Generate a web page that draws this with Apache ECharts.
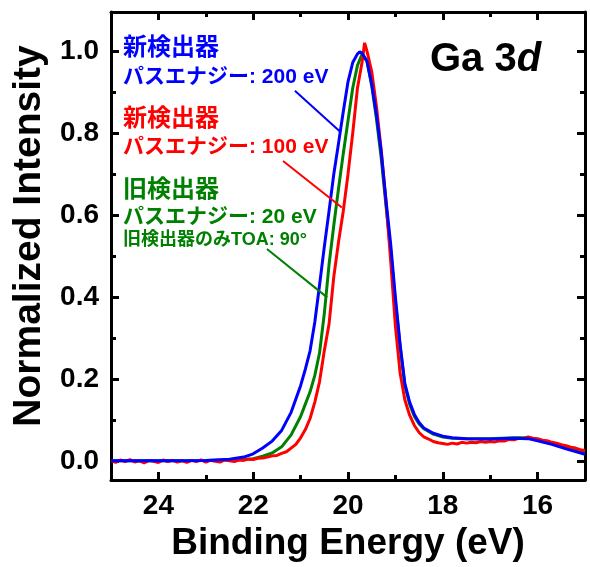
<!DOCTYPE html>
<html><head><meta charset="utf-8">
<script src="https://cdn.jsdelivr.net/npm/echarts@6/dist/echarts.min.js"></script>
<style>html,body{margin:0;padding:0;background:#fff}#c{width:590px;height:567px}</style>
</head><body><div id="c"></div>
<script>
// ---- data ----
const xMajor = [16, 18, 20, 22, 24];
const xMinor = [17, 19, 21, 23];
const yMajor = [0, 0.2, 0.4, 0.6, 0.8, 1.0];
const yMinor = [0.1, 0.3, 0.5, 0.7, 0.9];

const blueData = [[25.0,0.002],[24.0,0.002],[23.0,0.003],[22.5,0.006],[22.2,0.011],[22.0,0.019],[21.8,0.033],[21.6,0.05],[21.4,0.076],[21.2,0.12],[21.0,0.185],[20.9,0.225],[20.8,0.27],[20.7,0.34],[20.6,0.43],[20.5,0.523],[20.4,0.61],[20.3,0.70],[20.2,0.775],[20.1,0.852],[20.0,0.925],[19.9,0.972],[19.8,0.993],[19.75,0.998],[19.7,0.994],[19.6,0.975],[19.5,0.92],[19.4,0.845],[19.3,0.755],[19.2,0.638],[19.1,0.53],[19.0,0.40],[18.9,0.285],[18.8,0.19],[18.7,0.145],[18.6,0.115],[18.5,0.095],[18.4,0.082],[18.2,0.069],[18.0,0.062],[17.8,0.058],[17.5,0.056],[17.0,0.055],[16.5,0.057],[16.2,0.056],[16.0,0.051],[15.7,0.042],[15.4,0.031],[15.0,0.018]];

const greenData = [[25.0,0.002],[24.0,0.002],[23.0,0.003],[22.5,0.004],[22.2,0.005],[22.0,0.007],[21.8,0.013],[21.6,0.021],[21.4,0.036],[21.2,0.065],[21.0,0.11],[20.9,0.14],[20.8,0.17],[20.7,0.21],[20.6,0.265],[20.5,0.36],[20.4,0.48],[20.3,0.575],[20.2,0.665],[20.1,0.75],[20.0,0.83],[19.9,0.91],[19.8,0.965],[19.7,0.993],[19.6,0.975],[19.5,0.915],[19.4,0.835],[19.3,0.74],[19.2,0.625],[19.1,0.515],[19.0,0.39],[18.9,0.28],[18.8,0.185],[18.7,0.14],[18.6,0.11],[18.5,0.092],[18.4,0.08],[18.2,0.067],[18.0,0.06],[17.8,0.057],[17.5,0.056],[17.0,0.056],[16.5,0.058],[16.2,0.058],[16.0,0.054],[15.7,0.045],[15.4,0.036],[15.0,0.024]];

const redData = [[25.0,0.003],[24.9,-0.002],[24.8,0.004],[24.7,0.0],[24.6,0.005],[24.5,-0.001],[24.4,0.002],[24.3,-0.003],[24.2,0.003],[24.1,0.001],[24.0,-0.002],[23.9,0.004],[23.8,0.0],[23.7,0.003],[23.6,-0.001],[23.5,0.002],[23.4,-0.002],[23.3,0.003],[23.2,0.0],[23.1,0.004],[23.0,-0.001],[22.9,0.003],[22.8,0.001],[22.7,-0.001],[22.6,0.004],[22.5,0.002],[22.4,0.0],[22.3,0.004],[22.2,0.003],[22.1,0.006],[22.0,0.005],[21.9,0.008],[21.8,0.009],[21.7,0.011],[21.6,0.014],[21.5,0.015],[21.4,0.02],[21.3,0.024],[21.2,0.033],[21.1,0.042],[21.0,0.058],[20.9,0.078],[20.8,0.105],[20.7,0.145],[20.6,0.195],[20.5,0.27],[20.4,0.335],[20.3,0.45],[20.2,0.535],[20.1,0.61],[20.0,0.70],[19.9,0.80],[19.8,0.91],[19.7,0.975],[19.65,1.02],[19.6,1.0],[19.5,0.95],[19.4,0.865],[19.3,0.76],[19.2,0.635],[19.1,0.49],[19.0,0.33],[18.9,0.215],[18.8,0.15],[18.7,0.113],[18.6,0.088],[18.5,0.071],[18.4,0.06],[18.3,0.055],[18.2,0.049],[18.1,0.046],[18.0,0.044],[17.9,0.042],[17.8,0.045],[17.7,0.043],[17.6,0.047],[17.5,0.045],[17.4,0.047],[17.3,0.046],[17.2,0.049],[17.1,0.047],[17.0,0.049],[16.9,0.048],[16.8,0.051],[16.7,0.05],[16.6,0.054],[16.5,0.053],[16.4,0.057],[16.3,0.056],[16.2,0.06],[16.1,0.057],[16.0,0.056],[15.9,0.052],[15.8,0.051],[15.7,0.047],[15.6,0.045],[15.5,0.041],[15.4,0.039],[15.3,0.035],[15.2,0.033],[15.1,0.029],[15.0,0.027]];

// leader lines (data coordinates)
const blueLeader = [[21.12, 0.903], [20.17, 0.804]];
const redLeader = [[21.37, 0.732], [20.13, 0.619]];
const greenLeader = [[21.71, 0.518], [20.44, 0.40]];

const BLUE = '#0000ff', RED = '#ff0000', GREEN = '#008000';
const FAM = "'Liberation Sans', 'Noto Sans CJK JP', sans-serif";

// ---- chart ----
const chart = echarts.init(document.getElementById('c'), null, {renderer: 'canvas'});
const X = {min: 15, max: 25, inverse: true};
const Y = {min: -0.045, max: 1.095};
const tickStyle = {color: '#000', width: 3};
function xAx(pos, vals, len, main) {
  return Object.assign({type: 'value', position: pos,
    axisLine: {show: main, onZero: false, lineStyle: {color: '#000', width: 3}},
    axisTick: {show: true, inside: true, length: len, customValues: vals, lineStyle: tickStyle},
    axisLabel: {show: false}, splitLine: {show: false}}, X);
}
function yAx(pos, vals, len, main) {
  return Object.assign({type: 'value', position: pos,
    axisLine: {show: main, onZero: false, lineStyle: {color: '#000', width: 3}},
    axisTick: {show: true, inside: true, length: len, customValues: vals, lineStyle: tickStyle},
    axisLabel: {show: false}, splitLine: {show: false}}, Y);
}
const xMain = xAx('bottom', xMajor, 8, true);
xMain.axisLabel = {show: true, customValues: xMajor, fontSize: 28, fontWeight: 'bold', color: '#000', fontFamily: FAM, margin: 12};
xMain.name = 'Binding Energy (eV)';
xMain.nameLocation = 'middle';
xMain.nameGap = 44;
xMain.nameTextStyle = {fontSize: 37, fontWeight: 'bold', color: '#000', fontFamily: FAM};

const yMain = yAx('left', yMajor, 8, true);
yMain.axisLabel = {show: true, customValues: yMajor, fontSize: 28, fontWeight: 'bold', color: '#000', fontFamily: FAM, margin: 12,
  formatter: v => Number(v).toFixed(1)};

function leader(coords, color) {
  return {silent: true, symbol: ['none', 'none'], animation: false, label: {show: false},
    lineStyle: {color: color, width: 2, type: 'solid'},
    data: [[{coord: coords[0]}, {coord: coords[1]}]]};
}
function ser(name, data, color, lead) {
  return {name, type: 'line', data, xAxisIndex: 0, yAxisIndex: 0, showSymbol: false, symbol: 'none',
    lineStyle: {color, width: 3}, itemStyle: {color}, animation: false, markLine: leader(lead, color)};
}

const txt = (x, y, text, color, font) => ({type: 'text', x, y,
  style: {text, fill: color, font, textAlign: 'left', textVerticalAlign: 'middle', align: 'left', verticalAlign: 'middle'}});

chart.setOption({
  backgroundColor: '#fff',
  animation: false,
  grid: {left: 111, right: 5, top: 12, bottom: 81, containLabel: false},
  xAxis: [xMain, xAx('bottom', xMinor, 5, false), xAx('top', xMajor, 8, true), xAx('top', xMinor, 5, false)],
  yAxis: [yMain, yAx('left', yMinor, 5, false), yAx('right', yMajor, 8, true), yAx('right', yMinor, 5, false)],
  series: [
    ser('旧検出器', greenData, GREEN, greenLeader),
    ser('新検出器 100 eV', redData, RED, redLeader),
    ser('新検出器 200 eV', blueData, BLUE, blueLeader)
  ],
  graphic: [
    {type: 'text', x: 29, y: 236, rotation: Math.PI / 2,
      style: {text: 'Normalized Intensity', fill: '#000', font: "bold 39px " + FAM,
        textAlign: 'center', textVerticalAlign: 'middle', align: 'center', verticalAlign: 'middle'}},
    txt(123, 48, '新検出器', BLUE, "bold 24px " + FAM),
    txt(123, 77, 'パスエナジー: 200 eV', BLUE, "bold 21px " + FAM),
    txt(123, 119, '新検出器', RED, "bold 24px " + FAM),
    txt(123, 147, 'パスエナジー: 100 eV', RED, "bold 21px " + FAM),
    txt(123, 190, '旧検出器', GREEN, "bold 24px " + FAM),
    txt(123, 217, 'パスエナジー: 20 eV', GREEN, "bold 21px " + FAM),
    txt(123, 240, '旧検出器のみTOA: 90°', GREEN, "bold 18px " + FAM),
    {type: 'text', x: 430, y: 60, style: {text: '{a|Ga 3}{b|d}', align: 'left', verticalAlign: 'middle',
      textAlign: 'left', textVerticalAlign: 'middle',
      rich: {a: {fontSize: 40, fontWeight: 'bold', fontFamily: FAM, fill: '#000', color: '#000'},
             b: {fontSize: 40, fontWeight: 'bold', fontStyle: 'italic', fontFamily: FAM, fill: '#000', color: '#000'}}}}
  ]
});
</script></body></html>
